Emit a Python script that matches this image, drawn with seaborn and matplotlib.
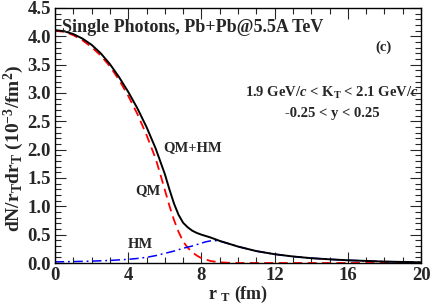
import numpy as np
import pandas as pd
import matplotlib
matplotlib.use("Agg")
import matplotlib.pyplot as plt
import seaborn as sns
from matplotlib.ticker import MultipleLocator, FormatStrFormatter

# r_T (fm) sample points
r_total = [0, 0.5, 1, 1.5, 2, 2.5, 3, 3.5, 4, 4.5, 5, 5.5, 6, 6.25, 6.5, 6.75, 7, 7.25,
           7.5, 7.75, 8, 8.5, 9, 9.5, 10, 11, 12, 13, 14, 15, 16, 18, 20]
qm_hm = [4.11, 4.09, 4.04, 3.96, 3.85, 3.70, 3.51, 3.28, 3.02, 2.73, 2.40, 2.02, 1.57,
         1.30, 1.05, 0.85, 0.71, 0.63, 0.57, 0.53, 0.50, 0.45, 0.39, 0.34, 0.29, 0.21,
         0.155, 0.115, 0.085, 0.065, 0.048, 0.025, 0.012]

r_qm = [0, 0.5, 1, 1.5, 2, 2.5, 3, 3.5, 4, 4.5, 5, 5.5, 5.75, 6, 6.25, 6.5, 6.75, 7,
        7.25, 7.5, 7.75, 8, 8.5, 9, 9.5, 10, 12, 16, 20]
qm = [4.10, 4.08, 4.02, 3.93, 3.81, 3.66, 3.47, 3.23, 2.95, 2.63, 2.26, 1.84, 1.57,
      1.29, 1.01, 0.76, 0.55, 0.38, 0.27, 0.19, 0.13, 0.085, 0.035, 0.012, 0.004,
      0.0, 0.0, 0.0, 0.0]

r_hm = [0, 1, 2, 3, 4, 4.5, 5, 5.5, 6, 6.5, 7, 7.5, 8, 8.25, 8.5, 8.75, 9, 9.5, 10,
        11, 12, 13, 14, 15, 16, 18, 20]
hm = [0.02, 0.025, 0.033, 0.045, 0.065, 0.08, 0.10, 0.13, 0.17, 0.21, 0.26, 0.30, 0.35,
      0.375, 0.39, 0.395, 0.385, 0.34, 0.29, 0.21, 0.155, 0.115, 0.085, 0.065, 0.048,
      0.025, 0.012]

sns.set_style("ticks")
plt.rcParams['font.family'] = ['Liberation Serif', 'DejaVu Serif']
plt.rcParams['font.weight'] = 'bold'
plt.rcParams['mathtext.fontset'] = 'custom'
plt.rcParams['mathtext.rm'] = 'Liberation Serif:bold'
plt.rcParams['mathtext.bf'] = 'Liberation Serif:bold'
plt.rcParams['mathtext.it'] = 'Liberation Serif:italic'
plt.rcParams['mathtext.default'] = 'bf'

fig = plt.figure(figsize=(4.31, 3.05), dpi=100)
ax = fig.add_axes([0.1276, 0.1377, 0.977 - 0.1276, 0.9738 - 0.1377])

sns.lineplot(x=r_qm, y=qm, ax=ax, color='#ff0000', linewidth=1.3,
             linestyle=(0, (5, 3)))
sns.lineplot(x=r_hm, y=hm, ax=ax, color='#0000ff', linewidth=1.1,
             linestyle=(0, (6, 2.5, 1.2, 2.5)))
sns.lineplot(x=r_total, y=qm_hm, ax=ax, color='black', linewidth=1.4)

ax.set_xlim(0, 20)
ax.set_ylim(0, 4.5)
ax.xaxis.set_major_locator(MultipleLocator(4))
ax.xaxis.set_minor_locator(MultipleLocator(1))
ax.yaxis.set_major_locator(MultipleLocator(0.5))
ax.yaxis.set_minor_locator(MultipleLocator(0.1))
ax.yaxis.set_major_formatter(FormatStrFormatter('%.1f'))
ax.tick_params(which='both', direction='in', top=True, right=True,
               labelsize=13.5, width=0.8, pad=3)
ax.tick_params(which='major', length=8)
ax.tick_params(which='minor', length=4)
for s in ax.spines.values():
    s.set_linewidth(1.0)
    s.set_color('black')
for lab in ax.get_xticklabels() + ax.get_yticklabels():
    lab.set_fontweight('bold')

ax.set_xlabel(r'r $_{\mathbf{T}}$ (fm)', fontsize=13, fontweight='bold', labelpad=0)
ax.set_ylabel(r'dN/r$_{\mathbf{T}}$dr$_{\mathbf{T}}$ (10$^{-3}$/fm$^{2}$)',
              fontsize=14, fontweight='bold')
ax.yaxis.set_label_coords(-0.078, 0.45)

ax.text(0.018, 0.955, 'Single Photons, Pb+Pb@5.5A TeV', transform=ax.transAxes,
        fontsize=13, fontweight='bold', ha='left', va='top')
ax.text(0.898, 0.845, '(c)', transform=ax.transAxes, fontsize=10.5,
        fontweight='bold', ha='center', va='center')
ax.text(0.757, 0.665, r'1.9 GeV/$\mathit{c}$ < K$_{\mathbf{T}}$ < 2.1 GeV/$\mathit{c}$',
        transform=ax.transAxes, fontsize=10.5, fontweight='bold', ha='center', va='center')
ax.text(0.757, 0.585, '-0.25 < y < 0.25', transform=ax.transAxes, fontsize=10.5,
        fontweight='bold', ha='center', va='center')

ax.text(5.94, 2.03, 'QM+HM', fontsize=10.5, fontweight='bold', ha='left', va='center')
ax.text(4.38, 1.28, 'QM', fontsize=10.5, fontweight='bold', ha='left', va='center')
ax.text(3.98, 0.33, 'HM', fontsize=10.5, fontweight='bold', ha='left', va='center')

fig.savefig('out.png', dpi=100)
